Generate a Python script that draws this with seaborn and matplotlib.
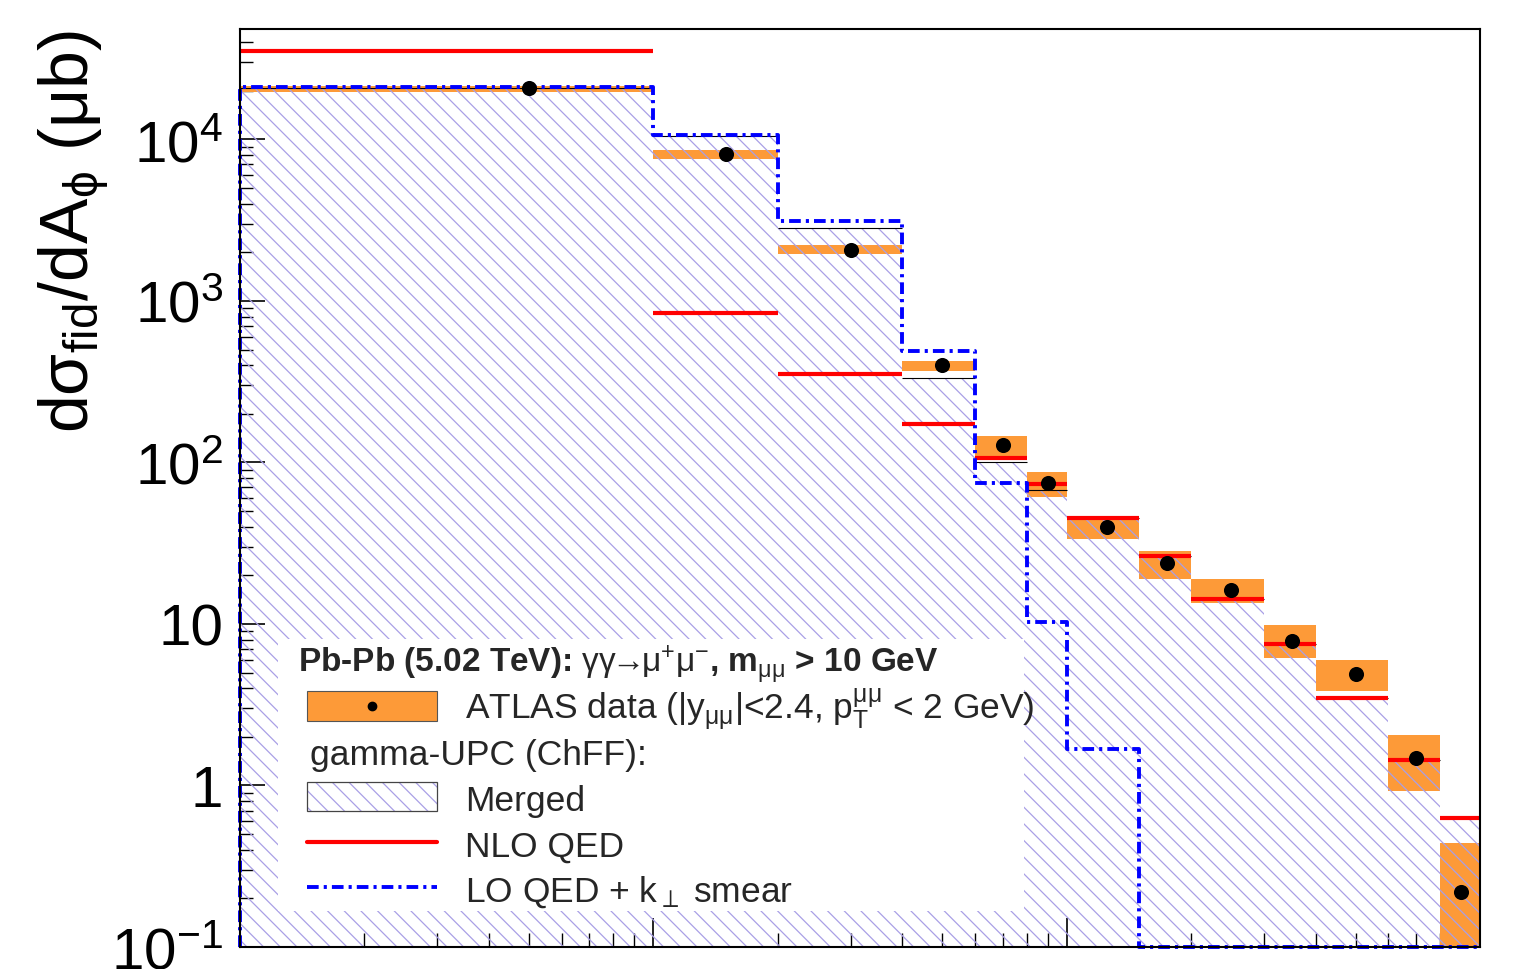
import numpy as np
import matplotlib
matplotlib.use("Agg")
import matplotlib.pyplot as plt
import seaborn as sns
from matplotlib.patches import Rectangle
from matplotlib.lines import Line2D
from matplotlib.ticker import FixedLocator, LogLocator, NullFormatter, FuncFormatter

# A_phi binning (acoplanarity) and cross sections in microbarn
bin_edges = [0.0, 0.001, 0.002, 0.004, 0.006, 0.008, 0.01, 0.015, 0.02, 0.03, 0.04, 0.06, 0.08, 0.1]
atlas_xsec = [20800, 8130, 2070, 402, 128, 74.6, 39.9, 23.9, 16.3, 7.85, 4.90, 1.48, 0.219]
atlas_band_lo = [19700, 7560, 1955, 368, 110, 61.1, 33.6, 19.0, 13.4, 6.15, 3.85, 0.925, 0.0]
atlas_band_hi = [21400, 8610, 2220, 425, 146, 87.4, 46.6, 28.3, 19.0, 9.86, 5.98, 2.06, 0.44]
merged_xsec = [20900, 10500, 2830, 333, 101, 67.6, 45.3, 26.4, 14.3, 7.52, 3.48, 1.44, 0.63]
nlo_xsec = [35300, 843, 353, 173, 107, 73.5, 45.3, 26.4, 14.3, 7.52, 3.48, 1.44, 0.63]
lo_kt_xsec = [21100, 10670, 3125, 490, 74.6, 10.3, 1.68, 0.0, 0.0, 0.0, 0.0, 0.0, 0.0]

y_tick_values = [0.1, 1, 10, 100, 1000, 10000]
y_tick_labels = [r"$10^{-1}$", "1", "10", r"$10^{2}$", r"$10^{3}$", r"$10^{4}$"]

XMIN, XMAX = 1e-4, 0.1
YMIN, YMAX = 0.1, 4.83e4

ORANGE = "#fd9a38"
HATCH = "#a99fe6"
RED = "#ff0000"
BLUE = "#0000ff"
LO_DASH = (0, (3.0, 1.3, 0.8, 1.3))
LEG_FS = 25.5

sns.set_theme(style="ticks")
plt.rcParams["font.family"] = ["Liberation Sans", "DejaVu Sans"]
plt.rcParams.update({
    "mathtext.fontset": "custom",
    "mathtext.rm": "Liberation Sans",
    "mathtext.it": "Liberation Sans:italic",
    "mathtext.bf": "Liberation Sans:bold",
    "hatch.color": HATCH,
    "hatch.linewidth": 0.9,
    "axes.edgecolor": "black",
    "axes.linewidth": 1.5,
})

edges = np.array(bin_edges)
xe = np.clip(edges, XMIN, None)
lefts, rights = xe[:-1], xe[1:]
centers = 0.5 * (edges[:-1] + edges[1:])

fig = plt.figure(figsize=(15.34, 9.70), dpi=100)
ax = fig.add_axes([240 / 1534, 22 / 970, 1240 / 1534, 918 / 970])
ax.set_xscale("log")
ax.set_yscale("log")

# data uncertainty boxes
band_lo = np.clip(np.array(atlas_band_lo), YMIN * 0.5, None)
band_hi = np.array(atlas_band_hi)
ax.bar(lefts, band_hi - band_lo, width=rights - lefts, bottom=band_lo,
       align="edge", color=ORANGE, linewidth=0, zorder=1)

# merged prediction: hatched histogram
merged = np.array(merged_xsec)
ax.fill_between(xe, YMIN * 0.5, np.append(merged, merged[-1]), step="post",
                facecolor="none", edgecolor=HATCH, hatch="\\\\", linewidth=0, zorder=2)
ax.hlines(merged, lefts, rights, color="black", linewidth=0.8, zorder=3)

# NLO QED
ax.hlines(nlo_xsec, lefts, rights, color=RED, linewidth=3.0, zorder=4)

# LO QED + kT smearing, drawn as a step contour starting from the axis floor
lo = np.clip(np.array(lo_kt_xsec), YMIN, None)
step_x = np.concatenate([[xe[0]], xe])
step_y = np.concatenate([[YMIN], lo, [lo[-1]]])
sns.lineplot(x=step_x, y=step_y, sort=False, estimator=None, drawstyle="steps-post",
             color=BLUE, linewidth=2.8, linestyle=LO_DASH, ax=ax, zorder=5, clip_on=False)

# ATLAS points
sns.scatterplot(x=centers, y=atlas_xsec, color="black", s=118, linewidth=0, ax=ax, zorder=6)

ax.set_xlim(XMIN, XMAX)
ax.set_ylim(YMIN, YMAX)

ax.yaxis.set_major_locator(FixedLocator(y_tick_values))
ax.yaxis.set_major_formatter(FuncFormatter(
    lambda v, p: y_tick_labels[y_tick_values.index(v)] if v in y_tick_values else ""))
ax.yaxis.set_minor_locator(LogLocator(base=10, subs=np.arange(2, 10), numticks=30))
ax.yaxis.set_minor_formatter(NullFormatter())
ax.xaxis.set_major_locator(LogLocator(base=10, numticks=10))
ax.xaxis.set_minor_locator(LogLocator(base=10, subs=np.arange(2, 10), numticks=30))
ax.xaxis.set_minor_formatter(NullFormatter())

ax.tick_params(axis="y", which="major", direction="in", length=18, width=1.2,
               labelsize=42, pad=12, right=False, left=True, color="black", labelcolor="black")
ax.tick_params(axis="y", which="minor", direction="in", length=9, width=1.0, right=False, left=True,
               color="black")
ax.tick_params(axis="x", which="major", direction="in", length=21, width=1.2,
               labelbottom=False, top=False, bottom=True, color="black")
ax.tick_params(axis="x", which="minor", direction="in", length=10, width=1.0, top=False,
               bottom=True, color="black")
for s in ax.spines.values():
    s.set_visible(True)
    s.set_color("black")
    s.set_linewidth(1.5)
    s.set_zorder(20)

ax.set_ylabel(r"d$\mathrm{\sigma}_{\mathrm{fid}}$/dA$_{\mathrm{\phi}}$ ($\mathrm{\mu}$b)",
              fontsize=49, color="black", loc="top")
ax.yaxis.set_label_coords(-0.104, 1.0)

# legend panel
T = ax.transAxes
ax.add_patch(Rectangle((0.031, 0.039), 0.601, 0.297, transform=T, facecolor="white",
                       edgecolor="none", zorder=10))
ax.text(0.0468, 0.2996,
        r"Pb-Pb (5.02 TeV): $\mathrm{\gamma\gamma\!\!\rightarrow\!\!\mu^{+}\mu^{-}}$, m$_{\mathrm{\mu\mu}}$ > 10 GeV",
        transform=T, fontsize=24, fontweight="bold", ha="left", va="baseline", zorder=11)

hx0, hx1, tx = 0.054, 0.159, 0.1815
ax.add_patch(Rectangle((hx0, 0.2462), hx1 - hx0, 0.0327, transform=T, facecolor=ORANGE,
                       edgecolor="#555555", linewidth=0.8, zorder=11))
ax.add_line(Line2D([0.5 * (hx0 + hx1)], [0.2625], transform=T, marker="o", markersize=6,
                   color="black", linestyle="none", zorder=12))
ax.text(tx, 0.2484, r"ATLAS data (|y$_{\mathrm{\mu\mu}}$|<2.4, p$_{\mathrm{T}}^{\mathrm{\mu\mu}}$ < 2 GeV)",
        transform=T, fontsize=LEG_FS, ha="left", va="baseline", zorder=11)
ax.text(0.0565, 0.1993, "gamma-UPC (ChFF):", transform=T, fontsize=LEG_FS,
        ha="left", va="baseline", zorder=11)
ax.add_patch(Rectangle((hx0, 0.1481), hx1 - hx0, 0.0316, transform=T, facecolor="white",
                       edgecolor=HATCH, hatch="\\\\", linewidth=0, zorder=11))
ax.add_patch(Rectangle((hx0, 0.1481), hx1 - hx0, 0.0316, transform=T, facecolor="none",
                       edgecolor="#444444", linewidth=0.9, zorder=12))
ax.text(tx, 0.1492, "Merged", transform=T, fontsize=LEG_FS, ha="left", va="baseline", zorder=11)
ax.add_line(Line2D([hx0, hx1], [0.1144, 0.1144], transform=T, color=RED, linewidth=3.0, zorder=11))
ax.text(tx, 0.0991, "NLO QED", transform=T, fontsize=LEG_FS, ha="left", va="baseline", zorder=11)
ax.add_line(Line2D([hx0, hx1], [0.0654, 0.0654], transform=T, color=BLUE, linewidth=2.8,
                   linestyle=LO_DASH, zorder=11))
ax.text(tx, 0.0501, r"LO QED + k$_{\perp}$ smear", transform=T, fontsize=LEG_FS,
        ha="left", va="baseline", zorder=11)

fig.savefig("out.png", dpi=100)
